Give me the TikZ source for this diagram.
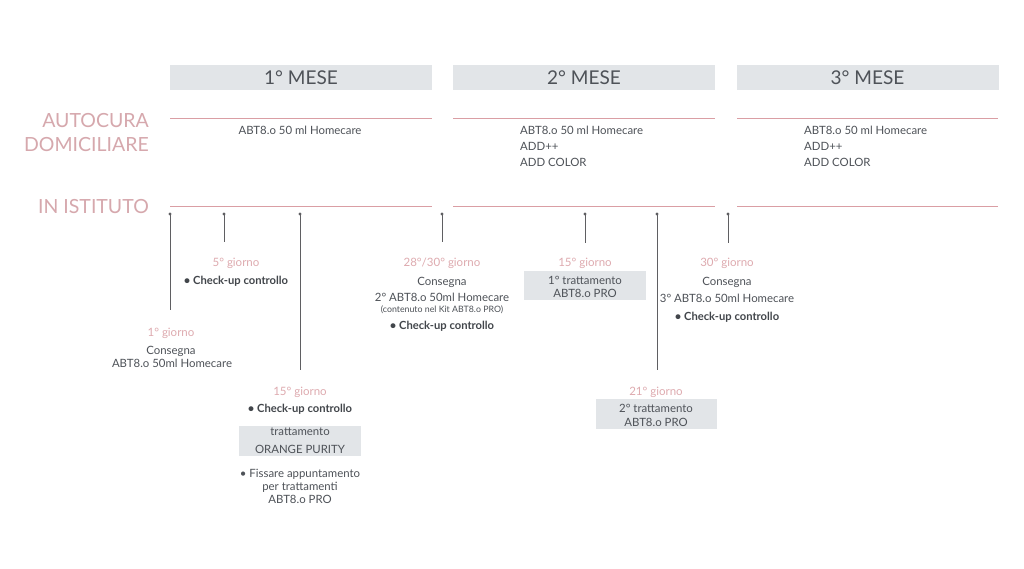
\documentclass[tikz,border=0pt]{standalone}
\usepackage{fontspec}
\setmainfont{Lato}
\definecolor{txtgray}{RGB}{78,82,88}
\definecolor{pinktxt}{RGB}{222,170,175}
\definecolor{pinklbl}{RGB}{214,168,173}
\definecolor{pinkline}{RGB}{218,158,164}
\definecolor{boxgray}{RGB}{226,229,232}
\definecolor{tickgray}{RGB}{95,95,98}
\tikzset{
  hdr/.style={fill=boxgray, text=txtgray, minimum width=262pt, minimum height=25pt, inner sep=0pt, font=\fontsize{19}{21}\selectfont},
  rowlbl/.style={text=pinklbl, inner sep=0pt, anchor=base east, font=\fontsize{19.5}{24}\selectfont},
  band/.style={draw=pinkline, line width=1pt},
  body/.style={text=txtgray, inner sep=0pt, anchor=base, font=\fontsize{11.4}{13}\selectfont},
  bodyl/.style={body, anchor=base west},
  day/.style={text=pinktxt, inner sep=0pt, anchor=base, font=\fontsize{11.5}{13}\selectfont},
  chk/.style={text=txtgray!85!black, inner sep=0pt, anchor=base, font=\fontsize{11.2}{13}\bfseries\selectfont},
  small/.style={text=txtgray, inner sep=0pt, anchor=base, font=\fontsize{8.8}{10}\selectfont},
  gbox/.style={fill=boxgray, draw=none, inner sep=0pt},
  tick/.style={draw=tickgray, line width=0.9pt},
  tdot/.style={fill=tickgray, circle, inner sep=0pt, minimum size=3.2pt}
}
\begin{document}
\begin{tikzpicture}[x=1pt,y=-1pt]
\useasboundingbox[fill=white] (0,0) rectangle (1024,569);

% month headers
\node[hdr] (m1) at (301,77.5) {1° MESE};
\node[hdr] (m2) at (584,77.5) {2° MESE};
\node[hdr] (m3) at (867.5,77.5) {3° MESE};

% row labels
\node[rowlbl] (lauto) at (149,128) {AUTOCURA};
\node[rowlbl] (ldom) at (149,152) {DOMICILIARE};
\node[rowlbl] (list) at (149,214) {IN ISTITUTO};

% bands
\draw[band] (170,118.5) -- (432,118.5);
\draw[band] (453,118.5) -- (715,118.5);
\draw[band] (737,118.5) -- (998,118.5);
\draw[band] (170,206.5) -- (432,206.5);
\draw[band] (453,206.5) -- (715,206.5);
\draw[band] (737,206.5) -- (998,206.5);

% autocura texts
\node[body] (a1) at (300,135) {ABT8.o 50 ml Homecare};
\node[bodyl] (a2a) at (520,135) {ABT8.o 50 ml Homecare};
\node[bodyl] (a2b) at (520,151) {ADD++};
\node[bodyl] (a2c) at (520,167) {ADD COLOR};
\node[bodyl] (a3a) at (804,135) {ABT8.o 50 ml Homecare};
\node[bodyl] (a3b) at (804,151) {ADD++};
\node[bodyl] (a3c) at (804,167) {ADD COLOR};

% ticks
\foreach \n/\x/\b in {t1/170/310, t2/224/242, t3/300/370, t4/442/242, t5/585/243, t6/657/370, t7/728/243}{
  \coordinate (\n top) at (\x,214);
  \coordinate (\n bot) at (\x,\b);
  \draw[tick] (\n top) -- (\n bot);
  \node[tdot] (\n dot) at (\n top) {};
}

% 1° giorno
\node[day] (d1) at (171,336) {1° giorno};
\node[body] (d1a) at (171,354) {Consegna};
\node[body] (d1b) at (172,367.5) {ABT8.o 50ml Homecare};

% 5° giorno
\node[day] (d5) at (236,266) {5° giorno};
\node[chk] (d5a) at (236,284) {• Check-up controllo};

% 15° giorno (month 1)
\node[day] (d15) at (300,395) {15° giorno};
\node[chk] (d15a) at (300,412.5) {• Check-up controllo};
\node[gbox, minimum width=122pt, minimum height=30pt] (op) at (300,441) {};
\node[body] (op1) at (300,435) {trattamento};
\node[body] (op2) at (300,453) {ORANGE PURITY};
\node[body] (f1) at (300,477) {• Fissare appuntamento};
\node[body] (f2) at (300,490.5) {per trattamenti};
\node[body] (f3) at (300,503.5) {ABT8.o PRO};

% 28°/30° giorno
\node[day] (d28) at (442,266) {28°/30° giorno};
\node[body] (d28a) at (442,285) {Consegna};
\node[body] (d28b) at (442,301.5) {2° ABT8.o 50ml Homecare};
\node[small] (d28c) at (442,312) {(contenuto nel Kit ABT8.o PRO)};
\node[chk] (d28d) at (442,329.5) {• Check-up controllo};

% 15° giorno (month 2)
\node[day] (e15) at (585,266.5) {15° giorno};
\node[gbox, minimum width=122pt, minimum height=29pt] (tr1) at (585,285.5) {};
\node[body] (tr1a) at (585,284) {1° trattamento};
\node[body] (tr1b) at (585,297.7) {ABT8.o PRO};

% 21° giorno
\node[day] (e21) at (656,395) {21° giorno};
\node[gbox, minimum width=121pt, minimum height=30pt] (tr2) at (656.5,414) {};
\node[body] (tr2a) at (656,412.7) {2° trattamento};
\node[body] (tr2b) at (656,426) {ABT8.o PRO};

% 30° giorno
\node[day] (e30) at (727,266.5) {30° giorno};
\node[body] (e30a) at (727,285) {Consegna};
\node[body] (e30b) at (727,302) {3° ABT8.o 50ml Homecare};
\node[chk] (e30c) at (727,320) {• Check-up controllo};
\end{tikzpicture}
\end{document}
